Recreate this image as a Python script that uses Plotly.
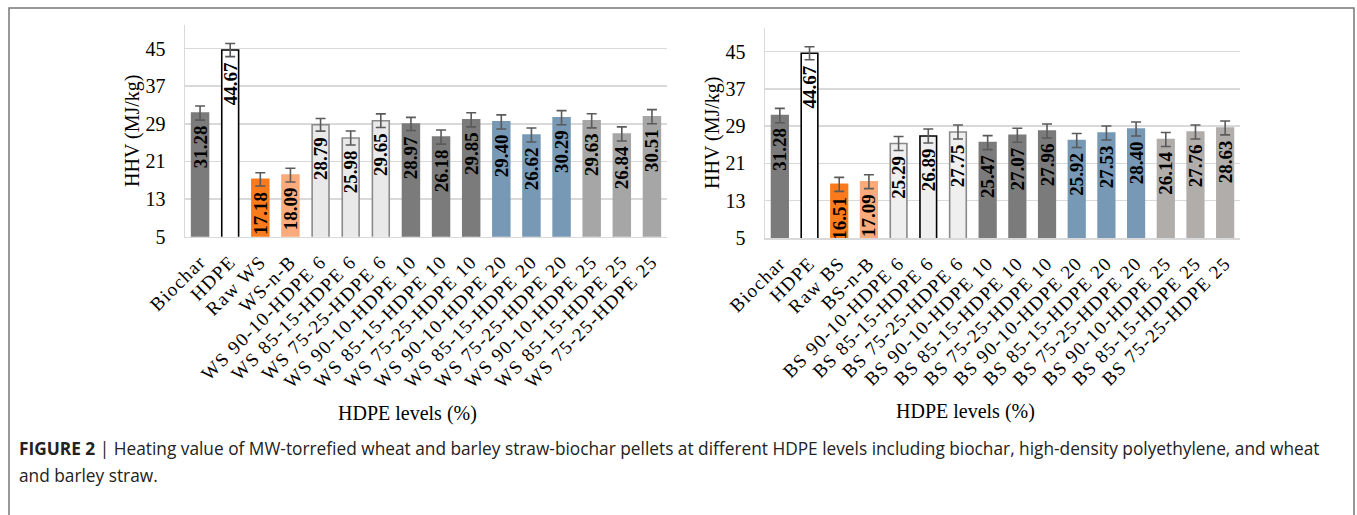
import plotly.graph_objects as go

# ---------------- data ----------------
ws_categories = ["Biochar", "HDPE", "Raw WS", "WS-n-B",
                 "WS 90-10-HDPE 6", "WS 85-15-HDPE 6", "WS 75-25-HDPE 6",
                 "WS 90-10-HDPE 10", "WS 85-15-HDPE 10", "WS 75-25-HDPE 10",
                 "WS 90-10-HDPE 20", "WS 85-15-HDPE 20", "WS 75-25-HDPE 20",
                 "WS 90-10-HDPE 25", "WS 85-15-HDPE 25", "WS 75-25-HDPE 25"]
ws_values = [31.28, 44.67, 17.18, 18.09, 28.79, 25.98, 29.65, 28.97,
             26.18, 29.85, 29.40, 26.62, 30.29, 29.63, 26.84, 30.51]
ws_errors = [1.5, 1.4, 1.4, 1.45, 1.35, 1.5, 1.45, 1.4,
             1.5, 1.5, 1.5, 1.5, 1.5, 1.5, 1.5, 1.5]

bs_categories = ["Biochar", "HDPE", "Raw BS", "BS-n-B",
                 "BS 90-10-HDPE 6", "BS 85-15-HDPE 6", "BS 75-25-HDPE 6",
                 "BS 90-10-HDPE 10", "BS 85-15-HDPE 10", "BS 75-25-HDPE 10",
                 "BS 90-10-HDPE 20", "BS 85-15-HDPE 20", "BS 75-25-HDPE 20",
                 "BS 90-10-HDPE 25", "BS 85-15-HDPE 25", "BS 75-25-HDPE 25"]
bs_values = [31.28, 44.67, 16.51, 17.09, 25.29, 26.89, 27.75, 25.47,
             27.07, 27.96, 25.92, 27.53, 28.40, 26.14, 27.76, 28.63]
bs_errors = [1.55, 1.4, 1.5, 1.5, 1.5, 1.5, 1.5, 1.5,
             1.5, 1.5, 1.5, 1.5, 1.5, 1.5, 1.5, 1.5]

y_ticks = [5, 13, 21, 29, 37, 45]

# ---------------- styles ----------------
DG = "#7b7b7b"
ws_fill = [DG, "#ffffff", "#fa7a1c", "#f9ab7c",
           "#e9e9e9", "#e9e9e9", "#e9e9e9",
           DG, DG, DG,
           "#7799b5", "#7799b5", "#7799b5",
           "#a6a6a6", "#a6a6a6", "#a6a6a6"]
ws_line = [DG, "#000000", "#fa7a1c", "#f9ab7c",
           "#8a8a8a", "#8a8a8a", "#8a8a8a",
           DG, DG, DG,
           "#7799b5", "#7799b5", "#7799b5",
           "#a6a6a6", "#a6a6a6", "#a6a6a6"]
bs_fill = [DG, "#ffffff", "#fa7a1c", "#f9ab7c",
           "#efefef", "#efefef", "#efefef",
           DG, DG, DG,
           "#7799b5", "#7799b5", "#7799b5",
           "#b1adab", "#b1adab", "#b1adab"]
bs_line = [DG, "#000000", "#fa7a1c", "#f9ab7c",
           "#8a8a8a", "#000000", "#8a8a8a",
           DG, DG, DG,
           "#7799b5", "#7799b5", "#7799b5",
           "#b1adab", "#b1adab", "#b1adab"]

SERIF = "Liberation Serif"
W, H = 1357, 515

fig = go.Figure()


def add_panel(cats, vals, errs, fills, lines, xa, ya):
    fig.add_trace(go.Bar(
        x=cats, y=vals, xaxis=xa, yaxis=ya,
        marker=dict(color=fills, line=dict(color=lines, width=1.6)),
        error_y=dict(type="data", array=errs, visible=True,
                     color="#5a5a5a", thickness=1.6, width=5),
        texttemplate="%{y:.2f}\u00a0\u00a0", textposition="inside",
        insidetextanchor="end", textangle=-90, constraintext="none",
        textfont=dict(family=SERIF, size=19, color="#000000", weight="bold"),
        showlegend=False, cliponaxis=False,
    ))


add_panel(ws_categories, ws_values, ws_errors, ws_fill, ws_line, "x", "y")
add_panel(bs_categories, bs_values, bs_errors, bs_fill, bs_line, "x2", "y2")


def px_x(p):
    return p / W


def px_y(p):
    return (H - p) / H


xcommon = dict(
    tickangle=-45, tickfont=dict(family=SERIF, size=19, color="#000000"),
    showgrid=False, zeroline=False, showline=True, linecolor="#d9d9d9",
    linewidth=1.5, ticks="outside", ticklen=5, tickcolor="rgba(0,0,0,0)",
    fixedrange=True, automargin=False,
)
ycommon = dict(
    range=[5, 50], tickvals=y_ticks, showgrid=True, gridcolor="#d9d9d9",
    gridwidth=1.5, zeroline=False, showline=True, linecolor="#d9d9d9",
    linewidth=1.5, ticks="outside", ticklen=14, tickcolor="rgba(0,0,0,0)",
    tickfont=dict(family=SERIF, size=20, color="#000000"), automargin=False,
    fixedrange=True,
)

fig.update_layout(
    template="none",
    width=W, height=H,
    margin=dict(l=0, r=0, t=0, b=0, pad=0),
    paper_bgcolor="#ffffff", plot_bgcolor="#ffffff",
    bargap=0.44,
    xaxis=dict(domain=[px_x(185), px_x(667)], anchor="y", **xcommon),
    yaxis=dict(domain=[px_y(236.7), px_y(25)], anchor="x", **ycommon),
    xaxis2=dict(domain=[px_x(765), px_x(1240)], anchor="y2", **xcommon),
    yaxis2=dict(domain=[px_y(238), px_y(28.4)], anchor="x2", **ycommon),
)

annotations = [
    dict(text="HHV (MJ/kg)", x=px_x(132), y=px_y(131), textangle=-90,
         font=dict(family=SERIF, size=20, color="#000000")),
    dict(text="HHV (MJ/kg)", x=px_x(712), y=px_y(133), textangle=-90,
         font=dict(family=SERIF, size=20, color="#000000")),
    dict(text="HDPE levels (%)", x=px_x(407), y=px_y(413),
         font=dict(family=SERIF, size=20, color="#000000")),
    dict(text="HDPE levels (%)", x=px_x(965), y=px_y(411),
         font=dict(family=SERIF, size=20, color="#000000")),
    dict(text="<b>FIGURE 2</b> | Heating value of MW-torrefied wheat and barley straw-biochar pellets "
              "at different HDPE levels including biochar, high-density polyethylene, and wheat",
         x=px_x(17), y=px_y(448), xanchor="left",
         font=dict(family="Open Sans", size=17.3, color="#222222")),
    dict(text="and barley straw.", x=px_x(17), y=px_y(475), xanchor="left",
         font=dict(family="Open Sans", size=17.3, color="#222222")),
]
for a in annotations:
    a.setdefault("xanchor", "center")
    a.update(xref="paper", yref="paper", yanchor="middle", showarrow=False)
fig.update_layout(annotations=annotations)

fig.add_shape(type="rect", xref="paper", yref="paper",
              x0=px_x(9), x1=px_x(1354), y0=-0.05, y1=px_y(8),
              line=dict(color="#777777", width=1.5), fillcolor="rgba(0,0,0,0)")

post = """
document.body.style.margin = '0';
document.body.style.padding = '0';
var gd = document.getElementById('{plot_id}');
function spaceLabels() {
  document.querySelectorAll('.xtick text, .x2tick text').forEach(function (t) {
    t.style.letterSpacing = '1.3px';
  });
}
spaceLabels();
if (gd && gd.on) { gd.on('plotly_afterplot', spaceLabels); }
setTimeout(spaceLabels, 50);
"""

fig.write_html("out.html", post_script=post,
               config={"displayModeBar": False, "staticPlot": True})
